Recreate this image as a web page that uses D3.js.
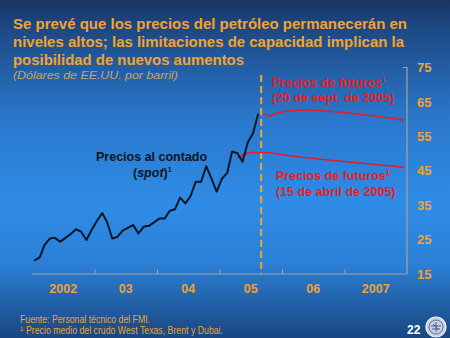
<!DOCTYPE html>
<html><head><meta charset="utf-8">
<script src="https://cdnjs.cloudflare.com/ajax/libs/d3/7.8.5/d3.min.js"></script>
<style>html,body{margin:0;padding:0;background:#1c3c6c;}svg{display:block;font-family:"Liberation Sans",Arial,sans-serif;}</style>
</head><body><svg id="c" width="450" height="338"></svg>
<script>
// ---- data ----
const spotMonths = ["2002-01","2002-02","2002-03","2002-04","2002-05","2002-06","2002-07","2002-08","2002-09","2002-10","2002-11","2002-12",
"2003-01","2003-02","2003-03","2003-04","2003-05","2003-06","2003-07","2003-08","2003-09","2003-10","2003-11","2003-12",
"2004-01","2004-02","2004-03","2004-04","2004-05","2004-06","2004-07","2004-08","2004-09","2004-10","2004-11","2004-12",
"2005-01","2005-02","2005-03","2005-04","2005-05","2005-06","2005-07","2005-08"];
const spotValues = [18.9,19.8,23.4,25.3,25.5,24.4,25.5,26.6,28.0,27.3,24.9,27.8,
30.4,32.7,30.2,25.3,25.8,27.6,28.4,29.2,26.8,28.7,29.0,30.0,
31.1,31.1,33.3,33.8,37.2,35.5,37.6,41.8,41.8,46.3,42.7,38.9,
42.7,44.4,50.6,50.1,47.6,53.3,55.8,61.6];
const futAprMonths = ["2005-04","2005-05","2005-06","2005-07","2005-10","2005-12","2006-04","2006-09","2007-01","2007-06","2007-12"];
const futAprValues = [48.8,49.5,50.2,50.3,50.3,49.8,49.0,48.2,47.6,46.9,46.0];
const futSepMonths = ["2005-09","2005-10","2005-11","2006-01","2006-04","2006-07","2006-12","2007-06","2007-12"];
const futSepValues = [61.6,60.8,61.5,62.2,62.7,62.6,62.0,61.0,59.7];
const yTicks = [15,25,35,45,55,65,75];
const yearStarts = ["2002","2003","2004","2005","2006","2007","2008"];
const xLabels = ["2002","03","04","05","06","2007"];
const cutDate = "2005-09-01";

const svg = d3.select("#c");
const W = 450, H = 338;
const parseM = d3.timeParse("%Y-%m");
const mid = s => { const d = parseM(s); return new Date(d.getFullYear(), d.getMonth(), 15); };

// background
const defs = svg.append("defs");
const g = defs.append("linearGradient").attr("id","bg").attr("x1",0).attr("y1",0).attr("x2",0).attr("y2",1);
[[0,"#1a3664"],[0.12,"#1f4f8e"],[0.35,"#2a78cc"],[0.6,"#2f8ce6"],[0.78,"#2b80d6"],[0.9,"#215fa6"],[1,"#1a4680"]]
  .forEach(([o,c])=>g.append("stop").attr("offset",o).attr("stop-color",c));
svg.append("rect").attr("width",W).attr("height",H).attr("fill","url(#bg)");

// scales
const x = d3.scaleTime().domain([new Date(2002,0,1), new Date(2008,0,1)]).range([32,407]);
const y = d3.scaleLinear().domain([15,75]).range([274,67.5]);

// title
const orange = "#f2a230";
const title = [
  ["Se prevé que los precios del petróleo permanecerán en", 29, 394],
  ["niveles altos; las limitaciones de capacidad implican la", 47, 391],
  ["posibilidad de nuevos aumentos", 65, 231]
];
title.forEach(([t,yy,w])=>svg.append("text").attr("x",13).attr("y",yy).attr("fill",orange)
  .attr("font-size",15).attr("font-weight","bold").attr("textLength",w).attr("lengthAdjust","spacingAndGlyphs").text(t));
svg.append("text").attr("x",13).attr("y",79).attr("fill","#c9a266").attr("font-size",11).attr("font-style","italic")
  .attr("textLength",165).attr("lengthAdjust","spacingAndGlyphs").text("(Dólares de EE.UU. por barril)");

// x axis
const axisCol = "#a8a394";
const xAx = svg.append("g").attr("transform","translate(0,274)")
  .call(d3.axisBottom(x).tickValues(yearStarts.slice(1,6).map(s=>new Date(+s,0,1))).tickSize(-5).tickFormat(""));
xAx.select(".domain").attr("stroke",axisCol).attr("stroke-width",1.2).attr("d","M32,0H407");
xAx.selectAll(".tick line").attr("stroke",axisCol);
// x labels centered in each year
svg.append("g").selectAll("text").data(xLabels).join("text")
  .attr("x",(d,i)=> (x(new Date(+yearStarts[i],0,1)) + x(new Date(+yearStarts[i+1],0,1)))/2)
  .attr("y",293).attr("text-anchor","middle").attr("fill",orange).attr("font-size",12.5).attr("font-weight","bold").text(d=>d);

// y axis (right)
const yAx = svg.append("g").attr("transform","translate(407,0)")
  .call(d3.axisRight(y).tickValues(yTicks).tickSize(0).tickPadding(10).tickFormat(d3.format("d")));
yAx.select(".domain").attr("stroke",axisCol).attr("stroke-width",1.2).attr("d","M-4,"+y(75)+"H0V"+y(15));
yAx.selectAll(".tick text").attr("fill",orange).attr("font-size",13).attr("font-weight","bold")
  .attr("font-family","Liberation Sans, Arial, sans-serif");

// cut line
svg.append("line").attr("x1",x(new Date(cutDate))).attr("x2",x(new Date(cutDate)))
  .attr("y1",75).attr("y2",274).attr("stroke","#f2a72a").attr("stroke-width",2).attr("stroke-dasharray","7,4");

// lines
const line = d3.line().x(d=>x(d[0])).y(d=>y(d[1]));
const red = "#e41e26";
svg.append("path").datum(futAprMonths.map((m,i)=>[mid(m),futAprValues[i]])).attr("d",line)
  .attr("fill","none").attr("stroke",red).attr("stroke-width",1.6);
svg.append("path").datum(futSepMonths.map((m,i)=>[mid(m),futSepValues[i]])).attr("d",line)
  .attr("fill","none").attr("stroke",red).attr("stroke-width",1.6);
svg.append("path").datum(spotMonths.map((m,i)=>[mid(m),spotValues[i]])).attr("d",line)
  .attr("fill","none").attr("stroke","#0d1626").attr("stroke-width",2).attr("stroke-linejoin","round");

// annotations
function lbl(txt, xx, yy, col, sup, anchor){
  const t = svg.append("text").attr("x",xx).attr("y",yy).attr("fill",col).attr("font-size",12.5)
    .attr("font-weight","bold").attr("text-anchor",anchor||"start");
  txt.forEach(p=>{ const s=t.append("tspan").text(p[0]); if(p[1]) s.attr("font-style","italic"); });
  if(sup) t.append("tspan").attr("font-size",7).attr("dy",-5).text("1");
  return t;
}
lbl([["Precios de futuros"]],272,87,red,true);
lbl([["(20 de sept. de 2005)"]],272,102,red,false);
lbl([["Precios de futuros"]],276,180,red,true);
lbl([["(15 de abril de 2005)"]],276,196,red,false);
lbl([["Precios al contado"]],96,161,"#0d1626",false);
lbl([["("],["spot",true],[")"]],133,177,"#0d1626",true);

// footnotes
svg.append("text").attr("x",20).attr("y",323).attr("fill","#eaa52c").attr("font-size",10)
  .attr("textLength",130).attr("lengthAdjust","spacingAndGlyphs").text("Fuente: Personal técnico del FMI.");
const fn = svg.append("text").attr("x",20).attr("y",334).attr("fill","#eaa52c").attr("font-size",10);
fn.append("tspan").attr("font-size",6).attr("dy",-3).text("1");
fn.append("tspan").attr("x",26).attr("dy",3).attr("textLength",197).attr("lengthAdjust","spacingAndGlyphs")
  .text("Precio medio del crudo West Texas, Brent y Dubai.");

// page number and logo
svg.append("text").attr("x",407).attr("y",334).attr("fill","#ffffff").attr("font-size",12).attr("font-weight","bold").text("22");
const lg = svg.append("g").attr("transform","translate(436,327)");
lg.append("circle").attr("r",10).attr("fill","#c9d2e2").attr("stroke","#eef2f8").attr("stroke-width",1.2);
lg.append("circle").attr("r",7).attr("fill","none").attr("stroke","#5a6f96").attr("stroke-width",1);
lg.append("path").attr("d","M-5,-1H5M-4,2H4M0,-5V5M-3,-3L3,3").attr("stroke","#4a5f86").attr("stroke-width",1);
</script></body></html>
